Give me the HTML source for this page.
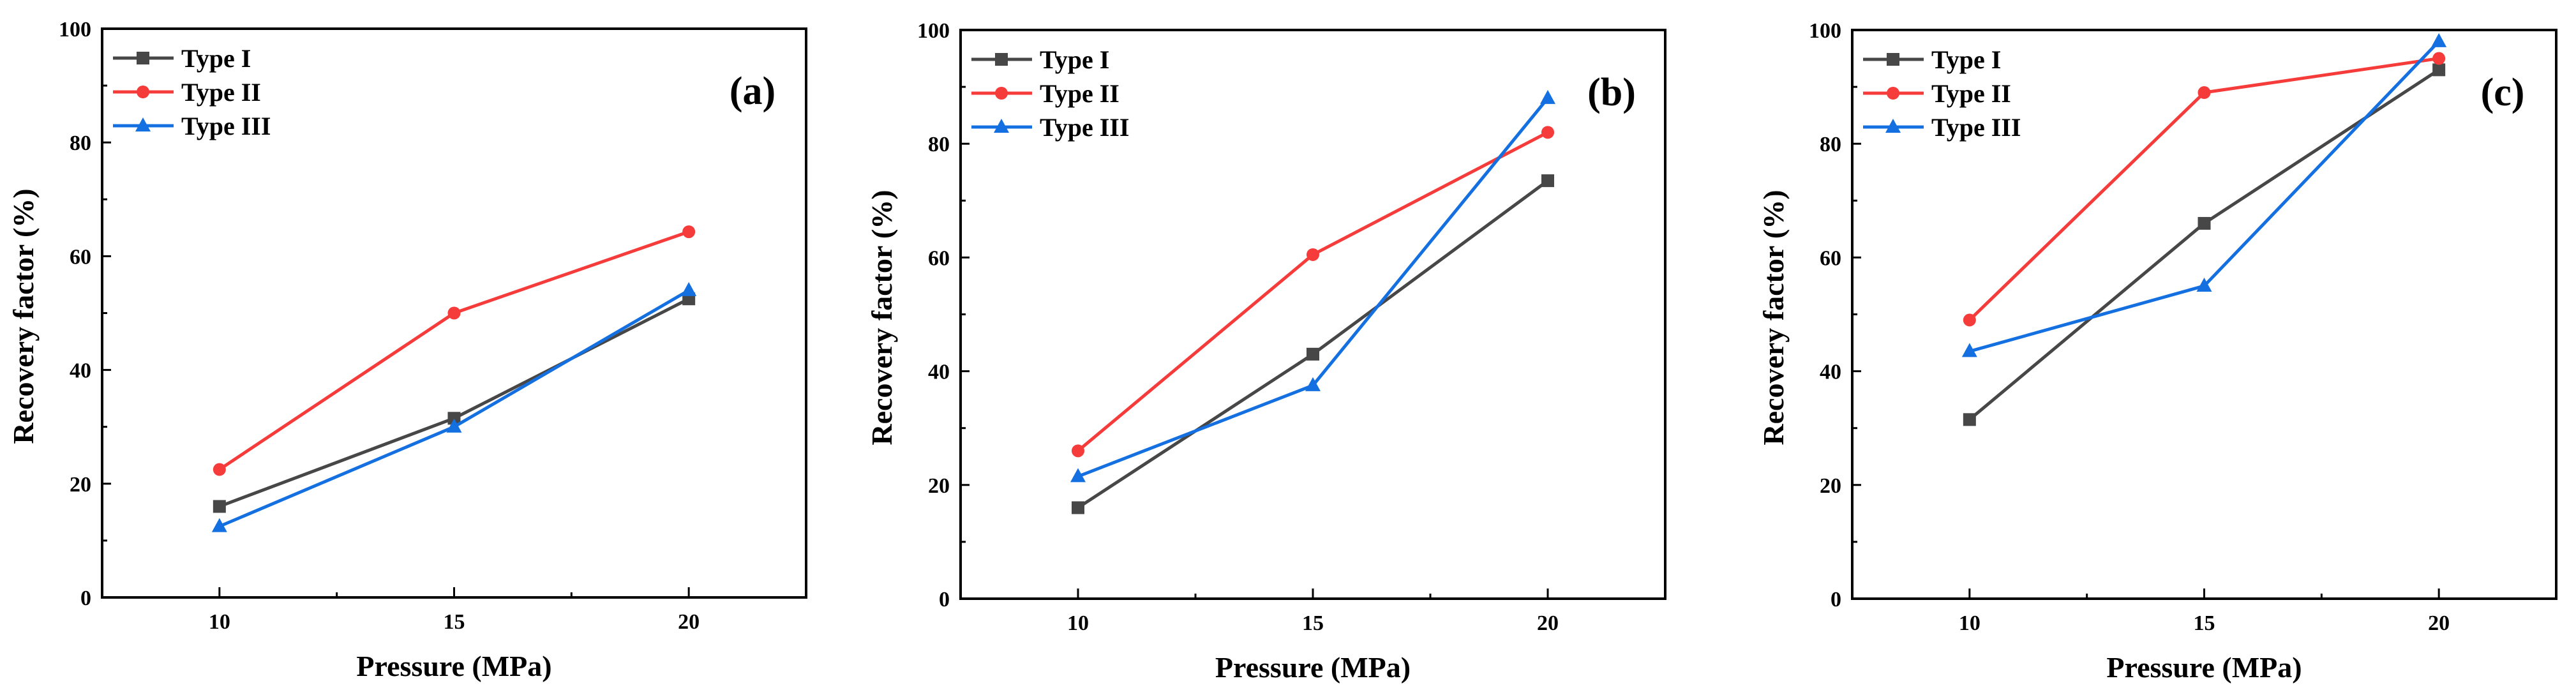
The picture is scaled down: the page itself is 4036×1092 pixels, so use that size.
<!DOCTYPE html>
<html><head><meta charset="utf-8"><style>
html,body{margin:0;padding:0;background:#fff;}
svg{display:block;}
text{font-family:"Liberation Serif",serif;font-weight:bold;fill:#000;}
</style></head><body>
<svg id="fig" width="4036" height="1092" viewBox="0 0 4036 1092" xmlns="http://www.w3.org/2000/svg"></svg>
<script>
const categories = [10, 15, 20];
const seriesNames = ["Type I", "Type II", "Type III"];
const aTypeI = [16, 31.5, 52.5];
const aTypeII = [22.5, 50, 64.3];
const aTypeIII = [12.5, 30, 54];
const bTypeI = [16, 43, 73.5];
const bTypeII = [26, 60.5, 82];
const bTypeIII = [21.5, 37.5, 88];
const cTypeI = [31.5, 66, 93];
const cTypeII = [49, 89, 95];
const cTypeIII = [43.5, 55, 98];
const yTicks = [0, 20, 40, 60, 80, 100];
const yMinor = [10, 30, 50, 70, 90];
const xTicks = [10, 15, 20];
const xMinor = [12.5, 17.5];
const panelLabels = ["(a)", "(b)", "(c)"];

const colors = ["#474747", "#f63b3b", "#1470e0"];
const panels = [
  {L:160, R:1263, T:45, B:936, data:[aTypeI,aTypeII,aTypeIII]},
  {L:1505, R:2609, T:47, B:938, data:[bTypeI,bTypeII,bTypeIII]},
  {L:2902, R:4005, T:47, B:938, data:[cTypeI,cTypeII,cTypeIII]}
];
const NS = "http://www.w3.org/2000/svg";
const svg = document.getElementById('fig');
function mk(tag, attrs, parent){
  const e = document.createElementNS(NS, tag);
  for (const k in attrs) e.setAttribute(k, attrs[k]);
  (parent||svg).appendChild(e);
  return e;
}
function marker(g, k, x, y){
  let m;
  if (k===0) m = mk('rect',{x:x-10,y:y-10,width:20,height:20,fill:colors[0]},g);
  else if (k===1) m = mk('circle',{cx:x,cy:y,r:10,fill:colors[1]},g);
  else m = mk('polygon',{points:`${x},${y-13} ${x+12},${y+9} ${x-12},${y+9}`,fill:colors[2]},g);
  
  
}
panels.forEach((p, pi) => {
  const g = mk('g', {});
  
  
  const xs = v => p.L + (v - 7.5) / 15 * (p.R - p.L);
  const ys = v => p.B - v / 100 * (p.B - p.T);
  const fr = mk('rect',{x:p.L,y:p.T,width:p.R-p.L,height:p.B-p.T,fill:'none',stroke:'#000','stroke-width':4},g);
  
  
  yTicks.forEach(v => {
    mk('line',{x1:p.L,x2:p.L+14,y1:ys(v),y2:ys(v),stroke:'#000','stroke-width':3},g);
    const t = mk('text',{x:p.L-17,y:ys(v)+12,'text-anchor':'end','font-size':34},g);
    t.textContent = v;
    
    
  });
  yMinor.forEach(v => mk('line',{x1:p.L,x2:p.L+8,y1:ys(v),y2:ys(v),stroke:'#000','stroke-width':3},g));
  xTicks.forEach(v => {
    mk('line',{x1:xs(v),x2:xs(v),y1:p.B,y2:p.B-16,stroke:'#000','stroke-width':3},g);
    const t = mk('text',{x:xs(v),y:p.B+49,'text-anchor':'middle','font-size':34},g);
    t.textContent = v;
    
    
  });
  xMinor.forEach(v => mk('line',{x1:xs(v),x2:xs(v),y1:p.B,y2:p.B-8,stroke:'#000','stroke-width':3},g));
  const xt = mk('text',{x:(p.L+p.R)/2,y:p.B+123,'text-anchor':'middle','font-size':46},g);
  xt.textContent = 'Pressure (MPa)';
  
  
  const yx = p.L - 108, yy = (p.T+p.B)/2 + 5;
  const yt = mk('text',{x:yx,y:yy,'text-anchor':'middle','font-size':46,transform:`rotate(-90 ${yx} ${yy})`},g);
  yt.textContent = 'Recovery factor (%)';
  
  
  p.data.forEach((vals, k) => {
    const sg = mk('g', {}, g);
    
    
    const pts = vals.map((v,i) => xs(categories[i]) + ',' + ys(v)).join(' ');
    mk('polyline',{points:pts,fill:'none',stroke:colors[k],'stroke-width':5,'stroke-linejoin':'round'},sg);
    vals.forEach((v,i) => marker(sg, k, xs(categories[i]), ys(v)));
  });
  const lg = mk('g', {}, g);
  
  
  seriesNames.forEach((n, k) => {
    const ly = p.T + 46 + k * 53;
    const eg = mk('g', {}, lg);
    
    
    mk('line',{x1:p.L+17,x2:p.L+112,y1:ly,y2:ly,stroke:colors[k],'stroke-width':5},eg);
    marker(eg, k, p.L+64, ly);
    const t = mk('text',{x:p.L+124,y:ly+14,'font-size':40},eg);
    t.textContent = n;
  });
  const pl = mk('text',{x:p.R-84,y:p.T+118,'text-anchor':'middle','font-size':62},g);
  pl.textContent = panelLabels[pi];
  
  
});
</script>
</body></html>
